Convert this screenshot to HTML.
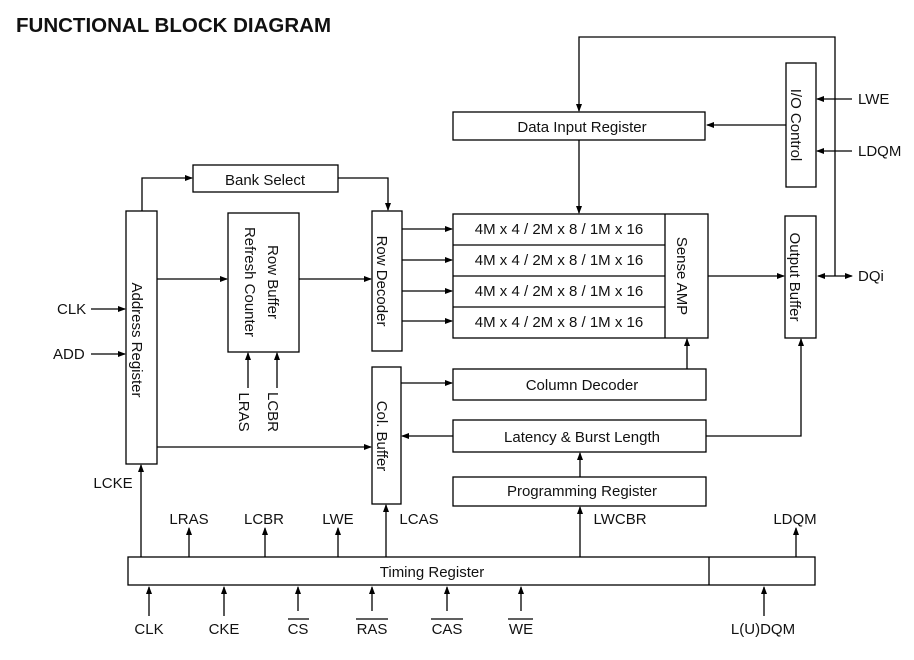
<!DOCTYPE html>
<html><head><style>
html,body{margin:0;padding:0;background:#fff;}
svg{display:block;}
text{font-family:"Liberation Sans",Arial,sans-serif;font-size:15px;fill:#111;}
</style></head><body>
<svg width="914" height="660" viewBox="0 0 914 660" xmlns="http://www.w3.org/2000/svg">
<defs>
<marker id="a" markerWidth="8" markerHeight="8" refX="7" refY="4" orient="auto" markerUnits="userSpaceOnUse">
<path d="M0,1 L8,4 L0,7 Z" fill="#000"/></marker>
<marker id="s" markerWidth="8" markerHeight="8" refX="1" refY="4" orient="auto" markerUnits="userSpaceOnUse">
<path d="M8,1 L0,4 L8,7 Z" fill="#000"/></marker>
</defs>
<text x="16" y="32" style="font-size:20.5px;font-weight:bold">FUNCTIONAL BLOCK DIAGRAM</text>
<g fill="none" stroke="#000" stroke-width="1.3">
<rect x="453" y="112" width="252" height="28"/>
<rect x="786" y="63" width="30" height="124"/>
<rect x="785" y="216" width="31" height="122"/>
<rect x="453" y="214" width="255" height="124"/>
<line x1="665" y1="214" x2="665" y2="338"/>
<line x1="453" y1="245" x2="665" y2="245"/>
<line x1="453" y1="276" x2="665" y2="276"/>
<line x1="453" y1="307" x2="665" y2="307"/>
<rect x="453" y="369" width="253" height="31"/>
<rect x="453" y="420" width="253" height="32"/>
<rect x="453" y="477" width="253" height="29"/>
<rect x="372" y="367" width="29" height="137"/>
<rect x="372" y="211" width="30" height="140"/>
<rect x="193" y="165" width="145" height="27"/>
<rect x="126" y="211" width="31" height="253"/>
<rect x="228" y="213" width="71" height="139"/>
<rect x="128" y="557" width="687" height="28"/>
<line x1="709" y1="557" x2="709" y2="585"/>
<polyline points="835,276 835,37 579,37 579,111" marker-end="url(#a)"/>
<line x1="786" y1="125" x2="707" y2="125" marker-end="url(#a)"/>
<line x1="852" y1="99" x2="817" y2="99" marker-end="url(#a)"/>
<line x1="852" y1="151" x2="817" y2="151" marker-end="url(#a)"/>
<line x1="818" y1="276" x2="852" y2="276" marker-start="url(#s)" marker-end="url(#a)"/>
<line x1="579" y1="140" x2="579" y2="213" marker-end="url(#a)"/>
<line x1="708" y1="276" x2="784" y2="276" marker-end="url(#a)"/>
<line x1="687" y1="369" x2="687" y2="339" marker-end="url(#a)"/>
<polyline points="706,436 801,436 801,339" marker-end="url(#a)"/>
<line x1="453" y1="436" x2="402" y2="436" marker-end="url(#a)"/>
<line x1="401" y1="383" x2="452" y2="383" marker-end="url(#a)"/>
<line x1="580" y1="477" x2="580" y2="453" marker-end="url(#a)"/>
<line x1="402" y1="229" x2="452" y2="229" marker-end="url(#a)"/>
<line x1="402" y1="260" x2="452" y2="260" marker-end="url(#a)"/>
<line x1="402" y1="291" x2="452" y2="291" marker-end="url(#a)"/>
<line x1="402" y1="321" x2="452" y2="321" marker-end="url(#a)"/>
<polyline points="142,211 142,178 192,178" marker-end="url(#a)"/>
<polyline points="338,178 388,178 388,210" marker-end="url(#a)"/>
<line x1="157" y1="279" x2="227" y2="279" marker-end="url(#a)"/>
<line x1="299" y1="279" x2="371" y2="279" marker-end="url(#a)"/>
<line x1="248" y1="388" x2="248" y2="353" marker-end="url(#a)"/>
<line x1="277" y1="388" x2="277" y2="353" marker-end="url(#a)"/>
<line x1="157" y1="447" x2="371" y2="447" marker-end="url(#a)"/>
<line x1="91" y1="309" x2="125" y2="309" marker-end="url(#a)"/>
<line x1="91" y1="354" x2="125" y2="354" marker-end="url(#a)"/>
<line x1="141" y1="557" x2="141" y2="465" marker-end="url(#a)"/>
<line x1="189" y1="557" x2="189" y2="528" marker-end="url(#a)"/>
<line x1="265" y1="557" x2="265" y2="528" marker-end="url(#a)"/>
<line x1="338" y1="557" x2="338" y2="528" marker-end="url(#a)"/>
<line x1="386" y1="557" x2="386" y2="505" marker-end="url(#a)"/>
<line x1="580" y1="557" x2="580" y2="507" marker-end="url(#a)"/>
<line x1="796" y1="557" x2="796" y2="528" marker-end="url(#a)"/>
<line x1="149" y1="616" x2="149" y2="587" marker-end="url(#a)"/>
<line x1="224" y1="616" x2="224" y2="587" marker-end="url(#a)"/>
<line x1="298" y1="611" x2="298" y2="587" marker-end="url(#a)"/>
<line x1="372" y1="611" x2="372" y2="587" marker-end="url(#a)"/>
<line x1="447" y1="611" x2="447" y2="587" marker-end="url(#a)"/>
<line x1="521" y1="611" x2="521" y2="587" marker-end="url(#a)"/>
<line x1="764" y1="616" x2="764" y2="587" marker-end="url(#a)"/>
</g>
<g stroke="#000" stroke-width="1.2">
<line x1="288" y1="619" x2="309" y2="619"/>
<line x1="356" y1="619" x2="388" y2="619"/>
<line x1="431" y1="619" x2="463" y2="619"/>
<line x1="508" y1="619" x2="533" y2="619"/>
</g>
<g text-anchor="middle">
<text x="582" y="132">Data Input Register</text>
<text x="265" y="185">Bank Select</text>
<text x="559" y="234">4M x 4 / 2M x 8 / 1M x 16</text>
<text x="559" y="265">4M x 4 / 2M x 8 / 1M x 16</text>
<text x="559" y="296">4M x 4 / 2M x 8 / 1M x 16</text>
<text x="559" y="327">4M x 4 / 2M x 8 / 1M x 16</text>
<text x="582" y="390">Column Decoder</text>
<text x="582" y="442">Latency &amp; Burst Length</text>
<text x="582" y="496">Programming Register</text>
<text x="432" y="577">Timing Register</text>
<text transform="translate(796,125) rotate(90)" y="5">I/O Control</text>
<text transform="translate(795,277) rotate(90)" y="5">Output Buffer</text>
<text transform="translate(682,276) rotate(90)" y="5">Sense AMP</text>
<text transform="translate(382,281) rotate(90)" y="5">Row Decoder</text>
<text transform="translate(382,436) rotate(90)" y="5">Col. Buffer</text>
<text transform="translate(137,340) rotate(90)" y="5">Address Register</text>
<text transform="translate(273,282) rotate(90)" y="5">Row Buffer</text>
<text transform="translate(250,282) rotate(90)" y="5">Refresh Counter</text>
<text transform="translate(244,412) rotate(90)" y="5">LRAS</text>
<text transform="translate(273,412) rotate(90)" y="5">LCBR</text>
<text x="189" y="524">LRAS</text>
<text x="264" y="524">LCBR</text>
<text x="338" y="524">LWE</text>
<text x="419" y="524">LCAS</text>
<text x="620" y="524">LWCBR</text>
<text x="795" y="524">LDQM</text>
<text x="113" y="488">LCKE</text>
<text x="149" y="634">CLK</text>
<text x="224" y="634">CKE</text>
<text x="298" y="634">CS</text>
<text x="372" y="634">RAS</text>
<text x="447" y="634">CAS</text>
<text x="521" y="634">WE</text>
<text x="763" y="634">L(U)DQM</text>
</g>
<text x="57" y="314">CLK</text>
<text x="53" y="359">ADD</text>
<text x="858" y="104">LWE</text>
<text x="858" y="156">LDQM</text>
<text x="858" y="281">DQi</text>
</svg>
</body></html>
